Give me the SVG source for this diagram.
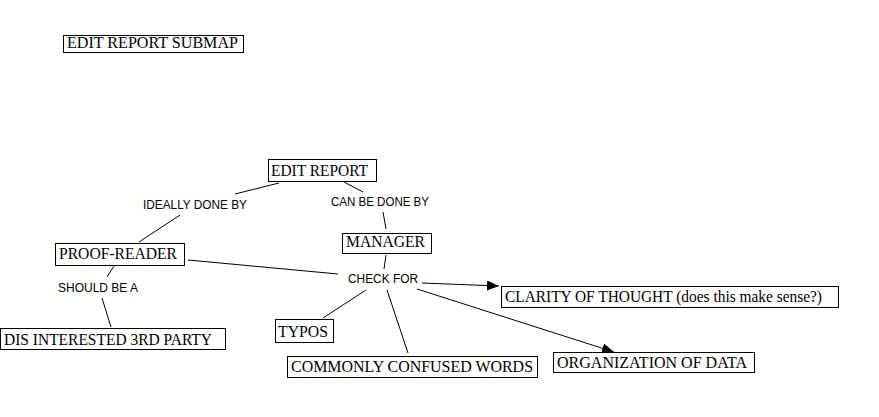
<svg xmlns="http://www.w3.org/2000/svg" width="879" height="417" viewBox="0 0 879 417">
<defs>
<style>
.box{fill:#fff;stroke:#000;stroke-width:1}
.bt{font-family:"Liberation Serif","Times New Roman",serif;font-size:16px;fill:#000}
.lt{font-family:"Liberation Sans",Arial,sans-serif;font-size:12px;fill:#000}
.c line{stroke:#000;stroke-width:1;fill:none}
</style>
<marker id="ah" viewBox="0 0 12 10" refX="12" refY="5" markerWidth="12" markerHeight="10" markerUnits="userSpaceOnUse" orient="auto">
<path d="M0,0 L12,5 L0,10 z" fill="#000"/>
</marker>
</defs>
<rect width="879" height="417" fill="#fff"/>
<g id="connectors" class="c">
<line x1="279" y1="183" x2="235" y2="194"/>
<line x1="180" y1="215" x2="139" y2="242"/>
<line x1="344" y1="182" x2="363" y2="192"/>
<line x1="383" y1="212" x2="386" y2="229"/>
<line x1="386" y1="255" x2="384" y2="269"/>
<line x1="188" y1="260" x2="338" y2="274"/>
<line x1="114" y1="266" x2="107" y2="277"/>
<line x1="102" y1="298" x2="111" y2="327"/>
<line x1="366" y1="290" x2="323" y2="318"/>
<line x1="387" y1="290" x2="408" y2="353"/>
<line x1="422" y1="283" x2="499" y2="286" marker-end="url(#ah)"/>
<line x1="417" y1="289" x2="614" y2="352" marker-end="url(#ah)"/>
</g>
<g id="submap"><rect class="box" x="63.5" y="35.5" width="180" height="17"/><text class="bt" x="67" y="48" font-size="13px" textLength="171" lengthAdjust="spacingAndGlyphs">EDIT REPORT SUBMAP</text></g>
<g id="edit-report"><rect class="box" x="268.5" y="159.5" width="108" height="22"/><text class="bt" x="271" y="176" textLength="97" lengthAdjust="spacingAndGlyphs">EDIT REPORT</text></g>
<g id="proof-reader"><rect class="box" x="55.5" y="243.5" width="129" height="22"/><text class="bt" x="59" y="259" textLength="118" lengthAdjust="spacingAndGlyphs">PROOF-READER</text></g>
<g id="manager"><rect class="box" x="342.5" y="233.5" width="89" height="20"/><text class="bt" x="346" y="247" textLength="79" lengthAdjust="spacingAndGlyphs">MANAGER</text></g>
<g id="dis-interested"><rect class="box" x="0.5" y="328.5" width="225" height="21"/><text class="bt" x="4" y="345" textLength="208" lengthAdjust="spacingAndGlyphs">DIS INTERESTED 3RD PARTY</text></g>
<g id="typos"><rect class="box" x="275.5" y="319.5" width="58" height="23"/><text class="bt" x="278" y="337" textLength="50" lengthAdjust="spacingAndGlyphs">TYPOS</text></g>
<g id="commonly"><rect class="box" x="287.5" y="356.5" width="250" height="21"/><text class="bt" x="291" y="372" textLength="242" lengthAdjust="spacingAndGlyphs">COMMONLY CONFUSED WORDS</text></g>
<g id="organization"><rect class="box" x="553.5" y="352.5" width="201" height="20"/><text class="bt" x="557" y="367.5" textLength="190" lengthAdjust="spacingAndGlyphs">ORGANIZATION OF DATA</text></g>
<g id="clarity"><rect class="box" x="501.5" y="286.5" width="337" height="21"/><text class="bt" x="505" y="302" textLength="317" lengthAdjust="spacingAndGlyphs">CLARITY OF THOUGHT (does this make sense?)</text></g>
<g id="lbl-ideally"><text class="lt" x="143" y="209" textLength="104" lengthAdjust="spacingAndGlyphs">IDEALLY DONE BY</text></g>
<g id="lbl-canbe"><text class="lt" x="331" y="206" textLength="98" lengthAdjust="spacingAndGlyphs">CAN BE DONE BY</text></g>
<g id="lbl-should"><text class="lt" x="58" y="292" textLength="80" lengthAdjust="spacingAndGlyphs">SHOULD BE A</text></g>
<g id="lbl-check"><text class="lt" x="348" y="283" textLength="70" lengthAdjust="spacingAndGlyphs">CHECK FOR</text></g>
</svg>
